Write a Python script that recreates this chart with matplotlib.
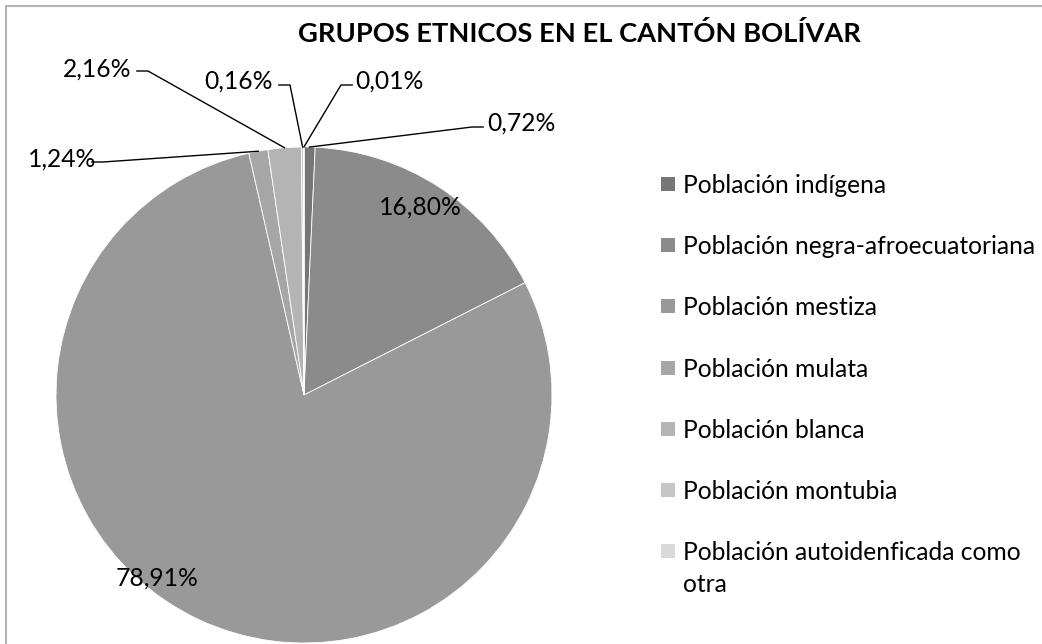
import numpy as np
import matplotlib

matplotlib.use("Agg")
import matplotlib.pyplot as plt
from matplotlib.patches import Rectangle

plt.rcParams["font.family"] = ["Lato", "DejaVu Sans"]

title = "GRUPOS ETNICOS EN EL CANTÓN BOLÍVAR"
labels = [
    "Población indígena",
    "Población negra-afroecuatoriana",
    "Población mestiza",
    "Población mulata",
    "Población blanca",
    "Población montubia",
    "Población autoidenficada como\notra",
]
values = [0.72, 16.80, 78.91, 1.24, 2.16, 0.16, 0.01]
pct_text = ["0,72%", "16,80%", "78,91%", "1,24%", "2,16%", "0,16%", "0,01%"]
colors = ["#767676", "#8b8b8b", "#999999", "#a6a6a6", "#b4b4b4", "#c6c6c6", "#d9d9d9"]

W, H = 1042, 644
fig = plt.figure(figsize=(W / 100, H / 100), dpi=100)

# outer frame
fig.patches.append(Rectangle((6 / W, -0.1), 1.2, 1 - 6 / H + 0.1, transform=fig.transFigure,
                             fill=False, edgecolor="#b3b3b3", linewidth=1.5))

cx, cy, r = 304, 395, 248
ax = fig.add_axes([(cx - r) / W, (H - cy - r) / H, 2 * r / W, 2 * r / H])
wedges, _ = ax.pie(values, colors=colors, startangle=90, counterclock=False, radius=1.0,
                   wedgeprops=dict(edgecolor="white", linewidth=0.6))
ax.set_xlim(-1, 1)
ax.set_ylim(-1, 1)
ax.set_aspect("equal")
ax.axis("off")

fs = 17.7


def px2fig(x, y):
    return x / W, 1 - y / H


def wedge_point(w, rad=1.0):
    ang = np.deg2rad((w.theta1 + w.theta2) / 2)
    return rad * np.cos(ang), rad * np.sin(ang)


# inside labels
for i, (tx, ty) in [(1, (420, 207)), (2, (157, 578))]:
    fig.text(*px2fig(tx, ty), pct_text[i], fontsize=fs, ha="center", va="center")

# outside labels with leader lines: (index, elbow px, text px, side)
outside = [
    (0, (472, 127), (487, 123), "left"),
    (6, (341, 85), (355, 81), "left"),
    (5, (290, 85), (273, 81), "right"),
    (4, (148, 71), (131, 69), "right"),
    (3, (103, 162), (96, 159), "right"),
]
for i, elbow, tpos, side in outside:
    px, py = wedge_point(wedges[i])
    ex, ey = ax.transData.inverted().transform(fig.transFigure.transform(px2fig(*elbow)))
    hx = ex + (0.045 if side == "left" else -0.045)
    ax.plot([px, ex, hx], [py, ey, ey], color="black", linewidth=1, clip_on=False)
    fig.text(*px2fig(*tpos), pct_text[i], fontsize=fs, ha=side, va="center")

fig.text(*px2fig(579, 33), title, fontsize=19.6, fontweight="bold", ha="center", va="center")

# legend
ly0, dy = 184, 61.2
for k, (lab, col) in enumerate(zip(labels, colors)):
    y = ly0 + k * dy
    fig.patches.append(Rectangle(px2fig(661, y + 7), 14 / W, 14 / H, transform=fig.transFigure,
                                 facecolor=col, edgecolor="none"))
    for j, line in enumerate(lab.split("\n")):
        fig.text(*px2fig(683, y + 9 + j * 32), line, fontsize=fs, ha="left", va="baseline")

fig.savefig("out.png", dpi=100)
